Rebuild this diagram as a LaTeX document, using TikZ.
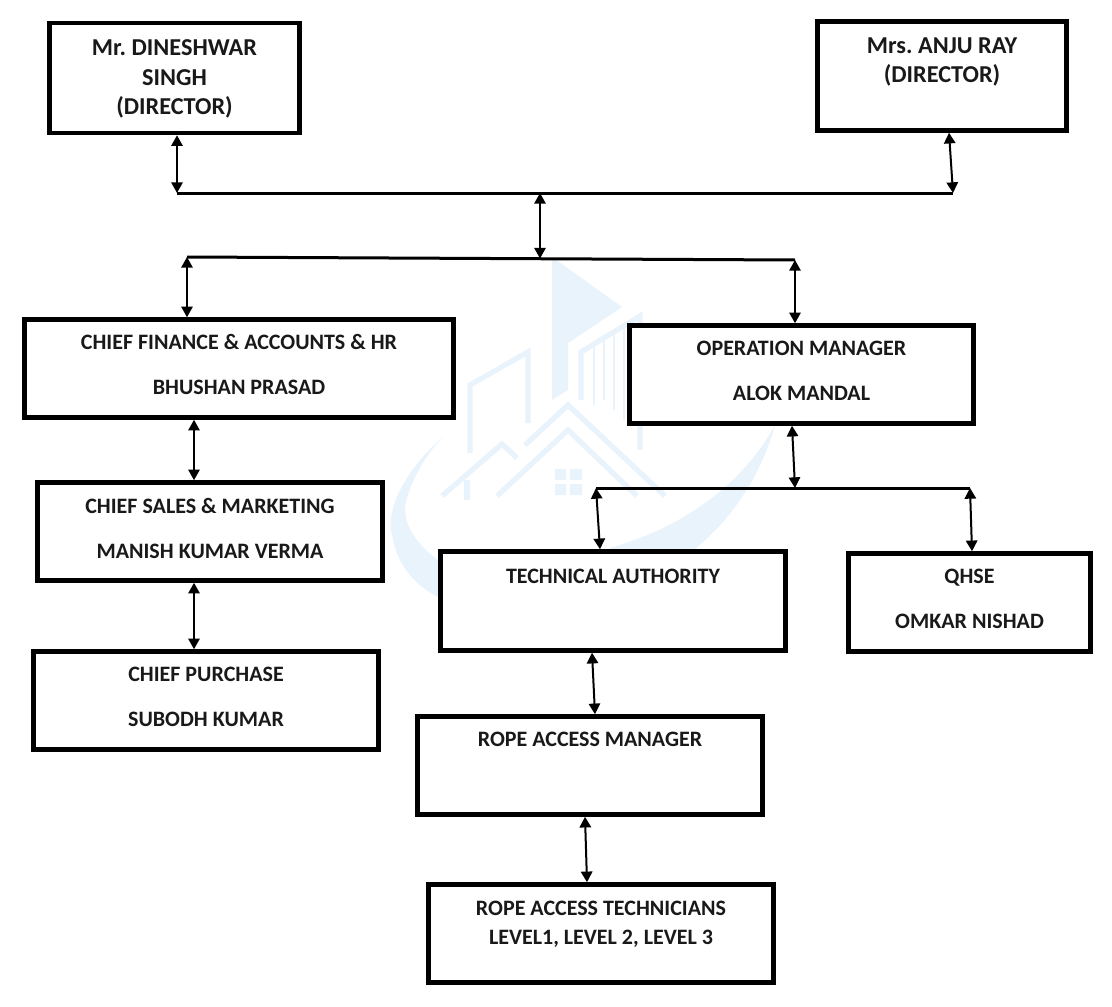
\documentclass[tikz,border=0pt]{standalone}
\usepackage{fontspec}
\setmainfont{Carlito}
\usetikzlibrary{arrows.meta}

\definecolor{markblue}{RGB}{233,243,252}
\tikzset{every picture/.style={line width=0.75pt}}
\tikzset{
  rolebox/.style={draw=black,fill=white,line width=3.4pt,align=center,inner sep=0pt,font=\frenchspacing\bfseries\fontsize{16.5}{22}\selectfont,text=black!90},
  dirbox/.style={rolebox,font=\frenchspacing\bfseries\fontsize{18.2}{22}\selectfont},
  busline/.style={line width=2.25pt},
  linkarrow/.style={line width=1.5pt,{Triangle[length=8pt,width=8.5pt]}-{Triangle[length=8pt,width=8.5pt]}},
  markline/.style={draw=markblue,line width=4pt,line join=miter},
}

\begin{document}
\begin{tikzpicture}[x=0.75pt,y=0.75pt,yscale=-1,xscale=1]
\useasboundingbox (0,0) rectangle (1112,1006);

%Shape: Watermark swoosh
\fill [markblue] (443,437) .. controls (405,470) and (385,510) .. (392,535) .. controls (398,570) and (420,590) .. (445,600) -- (445,565) .. controls (415,545) and (398,520) .. (408,495) .. controls (414,475) and (428,452) .. (443,437) -- cycle ;
\fill [markblue] (775,425) .. controls (745,480) and (690,525) .. (610,548) -- (610,560) -- (680,560) .. controls (725,530) and (760,480) .. (775,425) -- cycle ;
%Shape: Watermark flag
\fill [markblue] (552,257) -- (622,307) -- (568,343) -- (568,390) -- (552,400) -- cycle ;
%Shape: Watermark buildings
\draw [markline] (470,453) -- (470,385) -- (528,352) -- (528,423) ;
\draw [markline] (581,400) -- (581,352) -- (640,316) -- (640,450) ;
\draw [draw=markblue,line width=1.5pt] (594,345) -- (594,405) (604,340) -- (604,400) (614,333) -- (614,410) (624,327) -- (624,420) ;
%Shape: Watermark roofs
\draw [markline] (525,445) -- (568,405) -- (665,496) ;
\draw [markline] (497,496) -- (568,430) -- (637,496) ;
\draw [markline] (442,496) -- (502,444) -- (517,458) ;
\draw [markline] (467,480) -- (467,500) ;
%Shape: Watermark window
\fill [markblue] (555,469) rectangle (566,480) (570,469) rectangle (582,480) (555,484) rectangle (566,495) (570,484) rectangle (582,495) ;

% Boxes
\node [dirbox,minimum width=187.5pt,minimum height=82.5pt,text depth=1pt] (dineshwar) at (174.5,78) {Mr. DINESHWAR\\SINGH\\(DIRECTOR)};
\node [dirbox,minimum width=186.75pt,minimum height=81.75pt,text depth=24pt] (anju) at (942,76) {Mrs. ANJU RAY\\(DIRECTOR)};
\node [rolebox,minimum width=321.75pt,minimum height=73.5pt,text depth=6pt] (chieffinance) at (239,368.5) {CHIEF FINANCE \& ACCOUNTS \& HR\\[11.75pt]BHUSHAN PRASAD};
\node [rolebox,minimum width=258pt,minimum height=73.5pt,text depth=6pt] (opmanager) at (801.5,374.5) {OPERATION MANAGER\\[11.75pt]ALOK MANDAL};
\node [rolebox,minimum width=258.75pt,minimum height=73.5pt,text depth=5pt] (chiefsales) at (210,531.5) {CHIEF SALES \& MARKETING\\[11.75pt]MANISH KUMAR VERMA};
\node [rolebox,minimum width=258.75pt,minimum height=73.5pt,text depth=6pt] (chiefpurchase) at (206,700.5) {CHIEF PURCHASE\\[11.75pt]SUBODH KUMAR};
\node [rolebox,minimum width=258.75pt,minimum height=74.25pt,text depth=37.5pt] (techauth) at (613,601) {TECHNICAL AUTHORITY};
\node [rolebox,minimum width=181.5pt,minimum height=73.5pt,text depth=6pt] (qhse) at (969.5,602.5) {QHSE\\[11.75pt]OMKAR NISHAD};
\node [rolebox,minimum width=258.75pt,minimum height=73.5pt,text depth=39pt] (ropemanager) at (590,765.5) {ROPE ACCESS MANAGER};
\node [rolebox,minimum width=258.75pt,minimum height=73.5pt,text depth=16.5pt] (ropetech) at (601,933.5) {ROPE ACCESS TECHNICIANS\\LEVEL1, LEVEL 2, LEVEL 3};

% Bus ends
\coordinate (topbusL) at (177,193);
\coordinate (topbusR) at (953,193);
\coordinate (topbusM) at (540,193);
\coordinate (midbusL) at (187,257);
\coordinate (midbusR) at (795,260);
\coordinate (midbusM) at (540,258.5);
\coordinate (opbusL) at (596,488);
\coordinate (opbusR) at (970,488);
\coordinate (opbusM) at (795,488);

%Straight Lines
\draw [busline] (topbusL) -- (topbusR) ;
\draw [busline] (midbusL) -- (midbusR) ;
\draw [busline] (opbusL) -- (opbusR) ;

%Arrows
\draw [linkarrow] (dineshwar.south -| topbusL) -- (topbusL) ;
\draw [linkarrow] ([xshift=5.25pt]anju.south) -- (topbusR) ;
\draw [linkarrow] (topbusM) -- (midbusM) ;
\draw [linkarrow] (midbusL) -- (chieffinance.north -| midbusL) ;
\draw [linkarrow] (midbusR) -- (opmanager.north -| midbusR) ;
\draw [linkarrow] ([xshift=-33.75pt]chieffinance.south) -- ([xshift=-12pt]chiefsales.north) ;
\draw [linkarrow] ([xshift=-12pt]chiefsales.south) -- ([xshift=-9pt]chiefpurchase.north) ;
\draw [linkarrow] ([xshift=-7.125pt]opmanager.south) -- (opbusM) ;
\draw [linkarrow] (opbusL) -- ([xshift=-9.75pt]techauth.north) ;
\draw [linkarrow] (opbusR) -- ([xshift=1.875pt]qhse.north) ;
\draw [linkarrow] ([xshift=-15.75pt]techauth.south) -- ([xshift=3.75pt]ropemanager.north) ;
\draw [linkarrow] ([xshift=-3.75pt]ropemanager.south) -- ([xshift=-10.5pt]ropetech.north) ;

\end{tikzpicture}
\end{document}
